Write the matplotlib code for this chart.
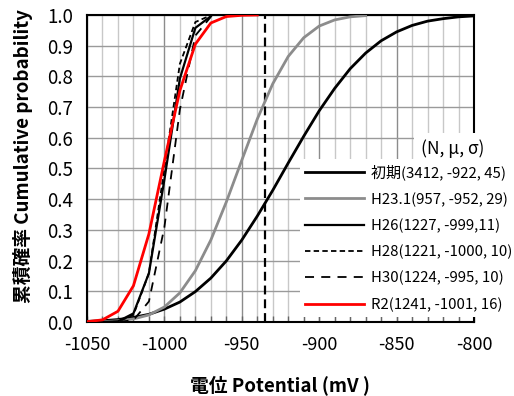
import matplotlib
matplotlib.use("Agg")
import matplotlib.pyplot as plt
from matplotlib.ticker import MultipleLocator, FormatStrFormatter

plt.rcParams['font.family'] = ['Noto Sans CJK JP', 'DejaVu Sans']
plt.rcParams['axes.unicode_minus'] = False

# 電位 (mV) と累積確率
x_shoki = [-1050, -1040, -1030, -1020, -1010, -1000, -990, -980, -970, -960, -950, -940, -930,
           -920, -910, -900, -890, -880, -870, -860, -850, -840, -830, -820, -810, -800]
p_shoki = [0.002, 0.004, 0.008, 0.015, 0.025, 0.042, 0.065, 0.099, 0.143, 0.199, 0.267, 0.345, 0.429,
           0.518, 0.605, 0.688, 0.761, 0.825, 0.876, 0.916, 0.945, 0.966, 0.980, 0.988, 0.994, 0.997]

x_h23 = [-1050, -1040, -1030, -1020, -1010, -1000, -990, -980, -970, -960,
         -950, -940, -930, -920, -910, -900, -890, -880, -870]
p_h23 = [0.000, 0.001, 0.004, 0.010, 0.023, 0.049, 0.095, 0.167, 0.267, 0.391,
         0.527, 0.661, 0.776, 0.865, 0.926, 0.964, 0.984, 0.994, 0.998]

x_narrow = [-1050, -1040, -1030, -1020, -1010, -1000, -990, -980, -970]
p_h26 = [0.000, 0.000, 0.002, 0.028, 0.159, 0.464, 0.793, 0.958, 0.996]
p_h28 = [0.000, 0.000, 0.001, 0.023, 0.159, 0.500, 0.841, 0.977, 0.999]
p_h30 = [0.000, 0.000, 0.000, 0.006, 0.067, 0.309, 0.692, 0.933, 0.994]

x_r2 = [-1050, -1040, -1030, -1020, -1010, -1000, -990, -980, -970, -960, -950, -940]
p_r2 = [0.001, 0.007, 0.035, 0.118, 0.287, 0.525, 0.754, 0.905, 0.974, 0.995, 0.999, 1.000]

labels = ['初期(3412, -922, 45)', 'H23.1(957, -952, 29)', 'H26(1227, -999,11)',
          'H28(1221, -1000, 10)', 'H30(1224, -995, 10)', 'R2(1241, -1001, 16)']

ref_x = -935

fig = plt.figure(figsize=(5.14, 3.96), dpi=100)
ax = fig.add_axes([87/514, 1-322/396, 387/514, 307/396])

ax.plot(x_shoki, p_shoki, color='black', lw=2.0, label=labels[0], zorder=3)
ax.plot(x_h23, p_h23, color='#8c8c8c', lw=2.0, label=labels[1], zorder=3)
ax.plot(x_narrow, p_h26, color='black', lw=1.6, label=labels[2], zorder=3)
ax.plot(x_narrow, p_h28, color='black', lw=1.3, dashes=(3, 1.8), label=labels[3], zorder=3)
ax.plot(x_narrow, p_h30, color='black', lw=1.3, dashes=(5, 4), label=labels[4], zorder=3)
ax.plot(x_r2, p_r2, color='#ff0000', lw=2.0, label=labels[5], zorder=4)

# 基準電位の縦線
ax.axvline(ref_x, color='black', lw=1.6, dashes=(4, 2.2), zorder=2)

ax.set_xlim(-1050, -800)
ax.set_ylim(0, 1.0)
ax.xaxis.set_major_locator(MultipleLocator(50))
ax.xaxis.set_minor_locator(MultipleLocator(10))
ax.yaxis.set_major_locator(MultipleLocator(0.1))
ax.yaxis.set_major_formatter(FormatStrFormatter('%.1f'))

ax.grid(which='minor', axis='x', color='#c8c8c8', lw=1.0, zorder=0)
ax.grid(which='major', axis='x', color='#8c8c8c', lw=1.0, zorder=0)
ax.grid(which='major', axis='y', color='#9a9a9a', lw=1.0, zorder=0)
ax.set_axisbelow(True)

ax.tick_params(axis='x', which='both', direction='in', length=4, width=1, color='#666666',
               labelsize=13, pad=10)
ax.tick_params(axis='y', length=0, labelsize=13.5, pad=10)
for s in ax.spines.values():
    s.set_linewidth(1.5)
    s.set_color('black')

fig.text(0.5*(87+474)/514, 1-385/396, '電位 Potential (mV )', ha='center', va='center',
         fontsize=13.5, fontweight='bold')
fig.text(23/514, 1-156/396, '累積確率 Cumulative probability', rotation=90,
         ha='center', va='center', fontsize=13.5, fontweight='bold')

leg = ax.legend(loc='lower left', bbox_to_anchor=(300/514, 1-317/396), bbox_transform=fig.transFigure,
                frameon=True, fancybox=False, edgecolor='none', facecolor='white', framealpha=1,
                fontsize=10.8, handlelength=3.9, handletextpad=0.5, labelspacing=0.78,
                borderpad=0.35, borderaxespad=0)
leg.set_zorder(10)

fig.text(453/514, 1-149/396, '(N, μ, σ)', ha='center', va='center', fontsize=12.5,
         bbox=dict(facecolor='white', edgecolor='none', pad=5), zorder=11)

fig.savefig('out.png', dpi=100)
